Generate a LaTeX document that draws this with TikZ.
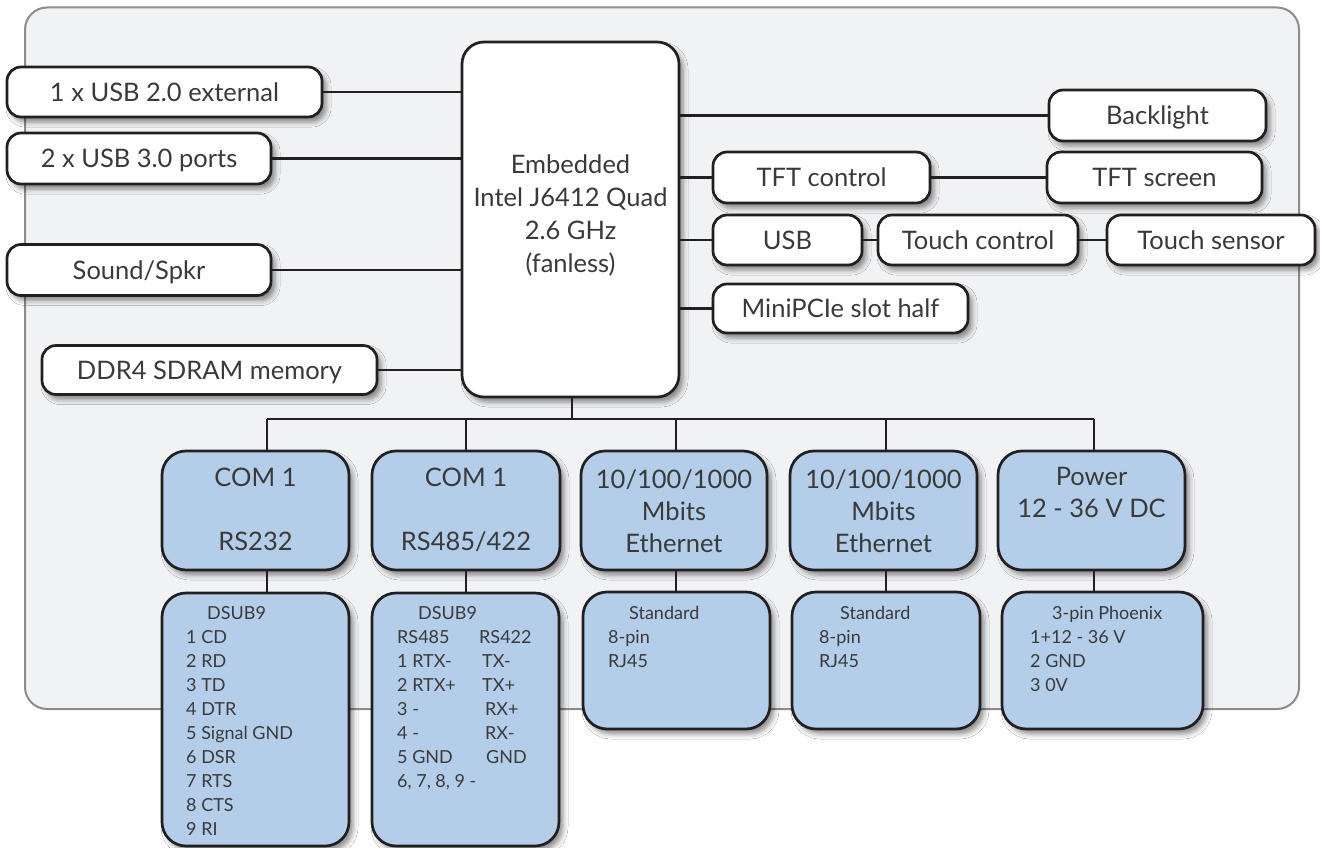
\documentclass[tikz,border=0pt]{standalone}
\usepackage{fontspec}
\setmainfont{Lato}
\usetikzlibrary{shadows.blur,calc}
\definecolor{bgfill}{HTML}{F1F2F4}
\definecolor{bgline}{HTML}{8C8C8C}
\definecolor{ink}{HTML}{231F20}
\definecolor{txt}{HTML}{3A3A3A}
\definecolor{boxblue}{HTML}{B4CEEA}
\newcommand\stacktext[2]{\raisebox{#1pt}[0pt][0pt]{\begin{tabular}[t]{@{}c@{}}#2\end{tabular}}}
\newcommand\pinlist[1]{\begin{tabular}[t]{@{}l@{}}#1\end{tabular}}
\tikzset{
  sh/.style={blur shadow={shadow xshift=4pt, shadow yshift=-5pt, shadow blur radius=5pt, shadow opacity=45}},
  wbox/.style={draw=ink, line width=2.7pt, fill=white, rounded corners=14pt, sh, text=txt,
    font=\fontsize{25.5}{33}\selectfont, inner sep=0pt},
  capbox/.style={wbox, text height=18.3pt, text depth=0pt},
  bbox/.style={wbox, fill=boxblue, rounded corners=24pt, font=\fontsize{25.5}{32}\selectfont},
  link/.style={draw=ink, line width=2.7pt},
  pins/.style={text=txt, font=\fontsize{18}{24}\selectfont, inner sep=0pt, anchor=base west},
}
\begin{document}
\begin{tikzpicture}[x=1pt, y=-1pt]
\useasboundingbox (0,0) rectangle (1320,848);
\fill[white] (0,0) rectangle (1320,848);
\draw[draw=bgline, fill=bgfill, line width=2pt, rounded corners=22pt] (25,7.5) rectangle (1299,709);

% CPU
\node[wbox, rounded corners=22pt, minimum width=217pt, minimum height=355pt] (cpu) at (570.5,219.5)
  {\stacktext{46.5}{Embedded\\Intel J6412 Quad\\2.6 GHz\\(fanless)}};

% left side
\node[capbox, minimum width=315pt, minimum height=50pt] (usb2) at (164.5,92) {1 x USB 2.0 external};
\node[capbox, minimum width=264pt, minimum height=51pt] (usb3) at (139,158.5) {2 x USB 3.0 ports};
\node[capbox, minimum width=264pt, minimum height=51pt] (sound) at (139,270) {Sound/Spkr};
\node[capbox, minimum width=335pt, minimum height=49pt] (ddr) at (209.5,370) {DDR4 SDRAM memory};

% right side
\node[capbox, minimum width=217pt, minimum height=51pt] (back) at (1157.5,115.5) {Backlight};
\node[capbox, minimum width=217pt, minimum height=51pt] (tftc) at (821.5,177.5) {TFT control};
\node[capbox, minimum width=215pt, minimum height=51pt] (tfts) at (1154.5,177.5) {TFT screen};
\node[capbox, minimum width=149pt, minimum height=50pt] (usb) at (787.5,240) {USB};
\node[capbox, minimum width=200pt, minimum height=50pt] (touchc) at (978,240) {Touch control};
\node[capbox, minimum width=208pt, minimum height=50pt] (touchs) at (1211,240) {Touch sensor};
\node[capbox, minimum width=255pt, minimum height=49pt] (mpcie) at (840.5,308.5) {MiniPCIe slot half};

% bottom upper boxes
\node[bbox, minimum width=187pt, minimum height=119pt] (c1a) at (255.5,510.5) {\stacktext{24.5}{COM 1\\[32pt]RS232}};
\node[bbox, minimum width=188pt, minimum height=119pt] (c2a) at (466,510.5) {\stacktext{24.5}{COM 1\\[32pt]RS485/422}};
\node[bbox, minimum width=186pt, minimum height=119pt] (e1a) at (674,510.5) {\stacktext{22.5}{10/100/1000\\Mbits\\Ethernet}};
\node[bbox, minimum width=187pt, minimum height=119pt] (e2a) at (883.5,510.5) {\stacktext{22.5}{10/100/1000\\Mbits\\Ethernet}};
\node[bbox, minimum width=187pt, minimum height=119pt] (pa) at (1091.5,510.5) {\stacktext{25.5}{Power\\12 - 36 V DC}};

% bottom lower boxes
\node[bbox, minimum width=187pt, minimum height=253pt] (c1b) at (255.5,719.5) {};
\node[bbox, minimum width=187pt, minimum height=253pt] (c2b) at (465.5,719.5) {};
\node[bbox, minimum width=187pt, minimum height=137pt] (e1b) at (676.5,660.5) {};
\node[bbox, minimum width=188pt, minimum height=137pt] (e2b) at (886,660.5) {};
\node[bbox, minimum width=201pt, minimum height=137pt] (pb) at (1102.5,660.5) {};

% pin texts
\node[pins] (c1t) at (186,619.5) {\pinlist{\hspace*{21pt}DSUB9\\1 CD\\2 RD\\3 TD\\4 DTR\\5 Signal GND\\6 DSR\\7 RTS\\8 CTS\\9 RI}};
\node[pins] (c2t) at (397,619.5) {\pinlist{\hspace*{21pt}DSUB9\\
  \makebox[82pt][l]{RS485}RS422\\
  \makebox[85pt][l]{1 RTX-}TX-\\
  \makebox[85pt][l]{2 RTX+}TX+\\
  \makebox[88pt][l]{3 -}RX+\\
  \makebox[88pt][l]{4 -}RX-\\
  \makebox[89pt][l]{5 GND}GND\\
  6, 7, 8, 9 -}};
\node[pins] (e1t) at (608,619.5) {\pinlist{\hspace*{21pt}Standard\\8-pin\\RJ45}};
\node[pins] (e2t) at (819,619.5) {\pinlist{\hspace*{21pt}Standard\\8-pin\\RJ45}};
\node[pins] (pt) at (1030,619.5) {\pinlist{\hspace*{22pt}3-pin Phoenix\\1+12 - 36 V\\2 GND\\3 0V}};

% connectors left
\draw[link] (usb2.east) -- (usb2.east -| cpu.west);
\draw[link] (usb3.east) -- (usb3.east -| cpu.west);
\draw[link] (sound.east) -- (sound.east -| cpu.west);
\draw[link] (ddr.east) -- (ddr.east -| cpu.west);
% connectors right
\draw[link] (cpu.east |- back.west) -- (back.west);
\draw[link] (cpu.east |- tftc.west) -- (tftc.west);
\draw[link] (tftc.east) -- (tfts.west);
\draw[link] (cpu.east |- usb.west) -- (usb.west);
\draw[link] (usb.east) -- (touchc.west);
\draw[link] (touchc.east) -- (touchs.west);
\draw[link] (cpu.east |- mpcie.west) -- (mpcie.west);

% bus
\coordinate (bus) at (572,419);
\coordinate (d1) at (267,419);
\coordinate (d2) at (466,419);
\coordinate (d3) at (676,419);
\coordinate (d4) at (886,419);
\coordinate (d5) at (1094,419);
\draw[link] (bus |- cpu.south) -- (bus);
\draw[link] (d1) -- (d5);
\foreach \d/\a/\b in {d1/c1a/c1b, d2/c2a/c2b, d3/e1a/e1b, d4/e2a/e2b, d5/pa/pb} {
  \draw[link] (\d) -- (\d |- \a.north);
  \draw[link] (\d |- \a.south) -- (\d |- \b.north);
}
\end{tikzpicture}
\end{document}
